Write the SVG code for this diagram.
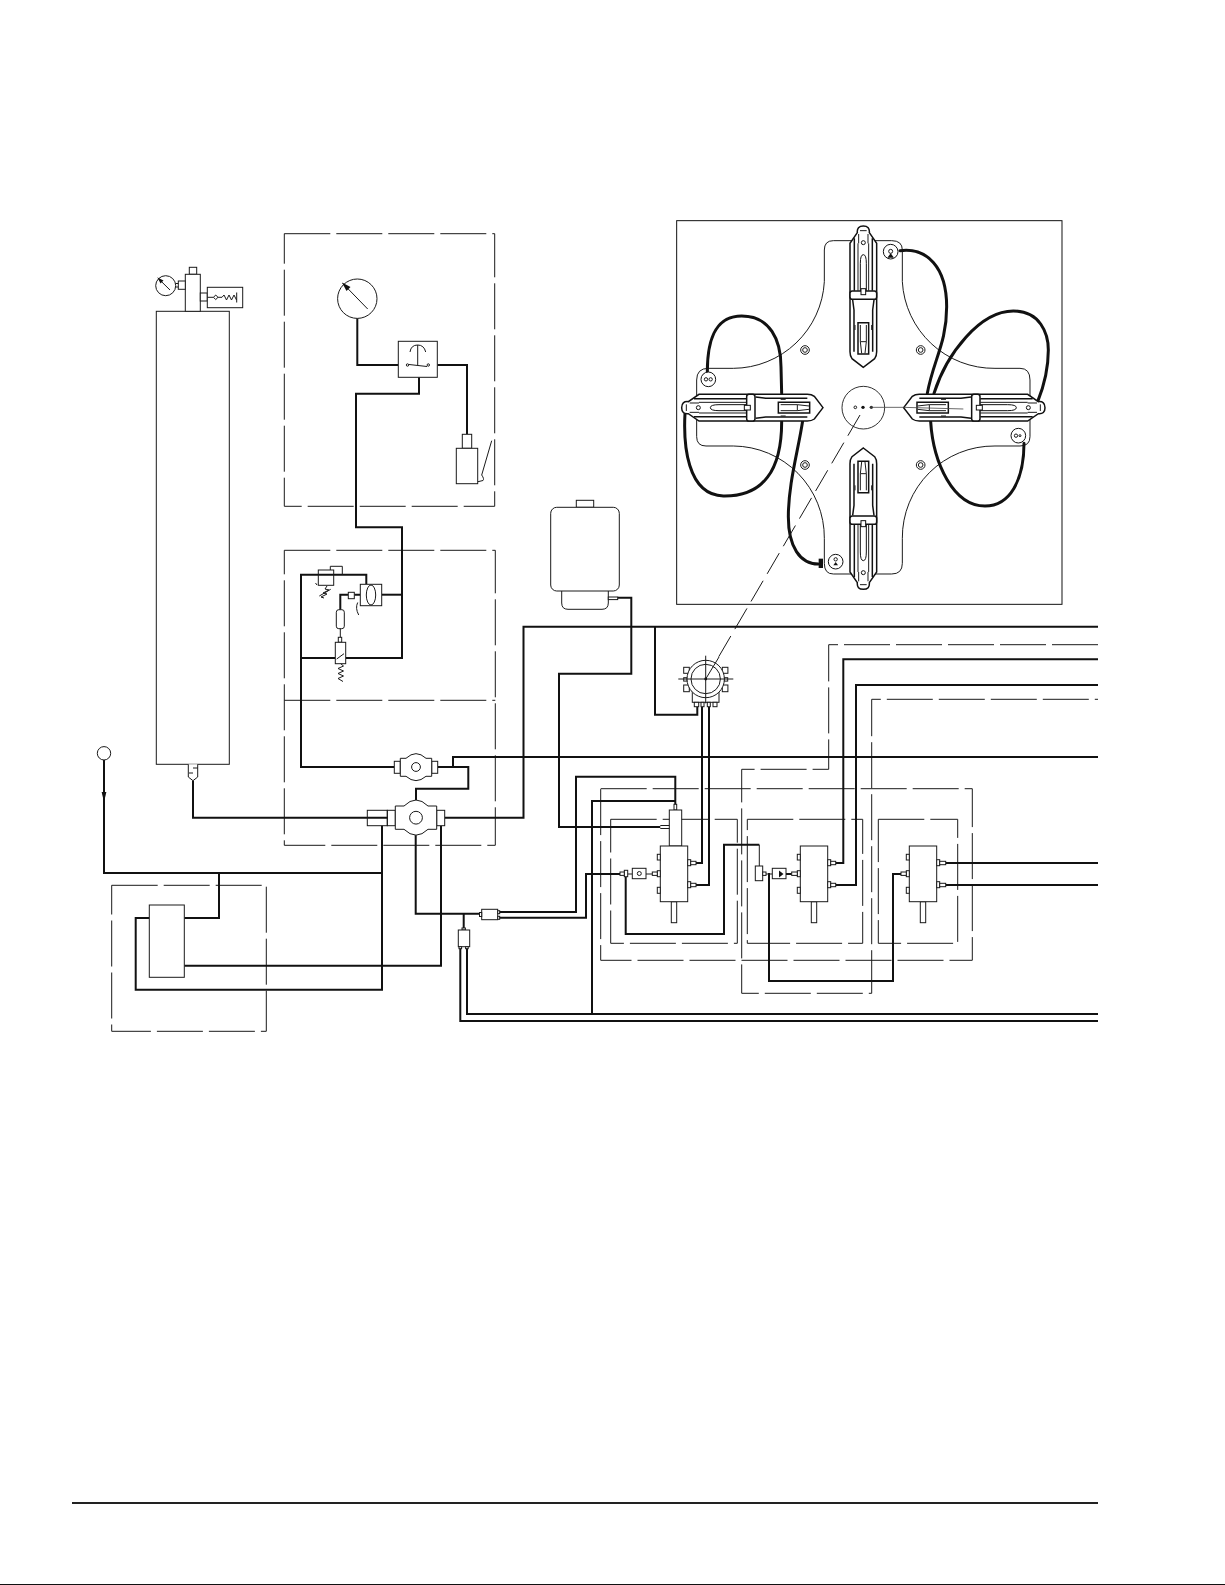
<svg xmlns="http://www.w3.org/2000/svg" xmlns:xlink="http://www.w3.org/1999/xlink" width="1225" height="1585" viewBox="0 0 1225 1585">
<style>
.t{fill:none;stroke:#1a1a1a;stroke-width:1;stroke-linejoin:miter}
.w{fill:#fff;stroke:#1a1a1a;stroke-width:1}
.d{fill:none;stroke:#1a1a1a;stroke-width:1;stroke-dasharray:46 6}
.k{fill:none;stroke:#111;stroke-width:2}
.pt{fill:none;stroke:#1a1a1a;stroke-width:3}
.pk{fill:none;stroke:#111;stroke-width:4.5}
.pw{fill:#fff;stroke:#111;stroke-width:3}
.ph{fill:none;stroke:#111;stroke-width:9;stroke-linecap:round}
</style>
<defs>
<marker id="arr" markerUnits="userSpaceOnUse" markerWidth="11" markerHeight="6" refX="10.5" refY="3" orient="auto" viewBox="0 0 11 6"><path d="M0 0.5V5.5L10.5 3Z" fill="#111"/></marker>
<g id="clamp">
<path class="pk" style="fill:#fff" d="M580 472L546 446Q540 438 540 425V100L562 68Q560 48 580 48Q600 48 598 68L620 100V425Q620 438 614 446Z"/>
<path class="pk" d="M553 85V242M607 85V242M548 270L552 300V425M612 270L608 300V425"/>
<path class="pt" d="M564 100V242M596 100V242"/>
<path class="pw" d="M571 242V160Q571 134 580 134Q589 134 589 160V242Z"/>
<path class="pt" d="M566 72V100M594 72V100M570 62H590"/>
<circle class="pw" cx="580" cy="98" r="6"/>
<rect class="pk" style="fill:#fff" x="540" y="243" width="80" height="25" rx="7"/>
<rect class="pw" x="573" y="236" width="14" height="18"/>
<path class="pk" style="fill:#fff" d="M564 338H596V432H564Z"/>
<path class="pt" d="M571 345V395L575 430M589 345V395L585 430M571 395H589"/>
<path class="pt" d="M555 345V360M605 345V360"/>
</g>
</defs>
<rect width="1225" height="1585" fill="#fff"/>

<g id="panel" transform="translate(670 210) scale(.33333)">
<rect x="20" y="32" width="1156" height="1151" fill="#fff" stroke="#111" stroke-width="3"/>
<path id="plate" class="pt" d="M540 92H490Q463 92 463 120V215A275 275 0 0 1 190 475H115Q80 475 80 510V680Q80 708 108 708H190A275 275 0 0 1 463 985V1060Q463 1092 490 1092H665Q697 1092 697 1060V985A275 275 0 0 1 975 708H1050Q1080 708 1080 680V510Q1080 475 1050 475H975A275 275 0 0 1 697 215V120Q697 92 665 92Z"/>
<g id="screws" class="pt">
<circle cx="405" cy="420" r="13"/><circle cx="405" cy="420" r="7"/>
<circle cx="752" cy="420" r="13"/><circle cx="752" cy="420" r="7"/>
<circle cx="405" cy="765" r="13"/><circle cx="405" cy="765" r="7"/>
<circle cx="752" cy="765" r="13"/><circle cx="752" cy="765" r="7"/>
</g>
<g id="hoses">
<path class="ph" d="M690 122C770 112 830 170 830 290C830 400 790 450 772 550"/>
<path class="ph" d="M792 550C830 430 930 303 1030 303C1110 303 1135 370 1135 420C1135 490 1115 545 1103 575"/>
<path class="ph" d="M782 635C790 760 850 888 945 888C1020 888 1062 810 1062 700"/>
<path class="ph" d="M112 485C112 400 130 318 215 318C300 318 333 390 333 470L335 550"/>
<path class="ph" d="M45 610C40 700 50 855 160 858C280 860 335 780 335 635"/>
<path class="ph" d="M398 632C385 720 355 820 355 920C355 1010 390 1062 445 1062"/>
<rect x="446" y="1046" width="13" height="28" fill="#111"/>
</g>
<g id="clamp-top"><use href="#clamp"/></g>
<g id="clamp-right"><use href="#clamp" transform="rotate(90 580 593)"/></g>
<g id="clamp-bottom"><use href="#clamp" transform="rotate(180 580 593)"/></g>
<g id="clamp-left"><use href="#clamp" transform="rotate(-90 580 593)"/></g>
<g id="ports">
<circle class="pw" cx="662" cy="125" r="22"/><circle class="pt" cx="662" cy="124" r="6"/><path d="M652 143L662 130L672 143Z" fill="#111"/>
<circle class="pw" cx="115" cy="508" r="22"/><circle class="pt" cx="108" cy="508" r="5"/><circle class="pt" cx="122" cy="508" r="5"/>
<circle class="pw" cx="1045" cy="677" r="22"/><circle class="pt" cx="1038" cy="677" r="5"/><circle class="pt" cx="1050" cy="677" r="3"/>
<circle class="pw" cx="497" cy="1055" r="22"/><circle class="pt" cx="497" cy="1048" r="5"/><path d="M490 1066H504L497 1056Z" fill="#111"/>
</g>
<g id="hub">
<circle cx="580" cy="593" r="64" fill="#fff" stroke="#111" stroke-width="2.6"/>
<circle cx="556" cy="592" r="4" class="pt"/><circle cx="579" cy="592" r="5" fill="#111"/><circle cx="604" cy="592" r="5" fill="#333"/>
<path d="M604 592H700L880 597" fill="none" stroke="#444" stroke-width="2.4"/>
</g>
</g>

<g id="dashed-boxes">
<rect class="d" x="284.3" y="233.7" width="210.4" height="272.6"/>
<path class="d" d="M284.3 550.3H495.3V845.3H284.3Z"/>
<path class="d" d="M284.3 700.3H495.3"/>
<rect class="d" x="111.7" y="885.3" width="154.6" height="146"/>
<path class="d" d="M1098 644.7H828.7V769.3H741.7V993.3H871.7V699.3H1098"/>
<rect class="d" x="600.7" y="788.7" width="371.6" height="171.6"/>
<rect class="d" x="610.7" y="819.3" width="126.6" height="124"/>
<rect class="d" x="747.3" y="819.3" width="115.4" height="124"/>
<rect class="d" x="878.3" y="819.3" width="79.4" height="124"/>
<path d="M860 415L705.7 679" fill="none" stroke="#1a1a1a" stroke-width="1" stroke-dasharray="24 8"/>
</g>

<g id="connectors">
<path class="k" d="M357.3 318V365H398.3"/>
<path class="k" d="M437.3 365H467V434.3"/>
<path class="k" d="M419 377.3V393.7H356V527.3H402V658H345.7"/>
<path class="k" d="M402 594.7H381.7"/>
<path class="k" d="M366.3 584.3V574.7H301V767H394.3"/>
<path class="k" d="M301 658H335.3"/>
<path class="k" d="M360.3 594.7H354.3M348.3 594.7H340.3V609.7"/>
<path class="k" d="M437.7 767H468.3V788.7H416V811.7"/>
<path class="k" d="M453 767V757H1098"/>
<path class="k" d="M444.7 817.7H523.5V626.7H1098"/>
<path class="k" d="M655 626.7V714.7H697.3V706.7"/>
<path class="k" d="M617.7 597.7H631.3V673.7H559V827H660.3"/>
<path class="k" d="M193 780.7V817.7H387.7"/>
<path class="k" d="M104 760V802" marker-end="url(#arr)"/>
<path class="k" d="M104 800V873H382"/>
<path class="k" d="M382 825.7V989.7H135.7V918H149.3"/>
<path class="k" d="M219 873V918H184.3"/>
<path class="k" d="M184.3 965.7H441V825.7"/>
<path class="k" d="M415.7 824V913.7H481"/>
<path class="k" d="M463.7 913.7V930"/>
<path class="k" d="M460.3 946.7V1021H1098"/>
<path class="k" d="M467 946.7V1014H1098"/>
<path class="k" d="M497.7 912H576V776.7H675.3V804.3"/>
<path class="k" d="M497.7 917.7H586V874H620"/>
<path class="k" d="M592 1014V801H675"/>
<path class="k" d="M696 863H702V706.7"/>
<path class="k" d="M696 885H709V706.7"/>
<path class="k" d="M625.7 876.7V934H724V844.7H759.3"/>
<path class="t" d="M759.3 844.7V866"/>
<path class="k" d="M769 873V981H893V874H901"/>
<path class="k" d="M786 874H791.7"/>
<path class="k" d="M835.7 863H843.3V659.3H1098"/>
<path class="k" d="M835.7 885H856V685H1098"/>
<path class="k" d="M945.7 863H1098M945.7 885H1098"/>
</g>

<g id="cylinder">
<rect class="w" x="156.3" y="311.3" width="73" height="453"/>
<path class="w" d="M188.3 764.3V777L193 780.7L197.7 777V764.3M193 768H197.7M193 773H189"/>
</g>
<g id="regulator">
<rect class="w" x="189.3" y="267.3" width="7.4" height="7"/>
<rect class="w" x="185.3" y="274.3" width="15" height="37"/>
<rect class="w" x="178.3" y="281" width="7" height="8.3"/>
<path class="t" d="M175.3 283.5H178.3M175.3 287H178.3"/>
<circle class="w" cx="165.7" cy="285.7" r="10"/>
<path class="t" d="M157.8 278L170 290"/><path d="M157.5 277.5L163.5 280.5L160.5 283.5Z" fill="#111"/>
<rect class="w" x="200.3" y="293" width="7" height="8"/>
<rect class="w" x="207.3" y="287.3" width="35.4" height="20.4"/>
<path class="t" d="M207.3 297.3H213.5L215.7 295L218 297.3L215.7 299.6L213.5 297.3M218 297.3H222L224 295L226.5 300L229 295L231.5 300L234 295L236.5 300M236.7 292.5V302.5"/>
</g>
<g id="gauge">
<circle class="w" cx="357.3" cy="298.7" r="19.7"/>
<path class="t" d="M342.7 283.3L367.7 309"/><path d="M342 282.5L350.5 287L346.5 291Z" fill="#111"/>
</g>
<g id="switch">
<rect class="w" x="398.3" y="341.3" width="39" height="36"/>
<path class="t" d="M410 352Q411 345 417.7 345Q424 345 425.7 352M417.7 345V365M409 364.5L427 366.5"/>
<circle class="t" cx="407.5" cy="365" r="1.2"/><circle class="t" cx="428.3" cy="365" r="1.2"/>
</g>
<g id="solenoid">
<rect class="w" x="462.3" y="434.3" width="9.4" height="14"/>
<rect class="w" x="456.3" y="448.3" width="21.4" height="35.4"/>
<path class="t" d="M491.7 440.7L481.7 475Q484.5 479 483 480.5L478 481.7"/>
</g>
<g id="flow-controls">
<rect class="t" x="318.3" y="570" width="15.4" height="15.3"/>
<path class="t" d="M330.3 570V566.3H342.3V574.7"/>
<path class="t" d="M327 586L325 589L329 590L323 593L327 594L321 597L324 598M319.3 596L330.7 589.3M315.5 583L317 585"/>
<rect class="w" x="360.3" y="584.3" width="21.4" height="21.4"/>
<ellipse class="t" cx="371" cy="595" rx="4.7" ry="10"/>
<path class="t" d="M357.7 602.5Q355 608 358.7 615"/>
<rect class="w" x="348.3" y="592.3" width="6" height="6.4"/>
<rect class="w" x="336.3" y="609.7" width="8" height="19" rx="2.5"/>
<path class="t" d="M340.3 628.7V637.3"/>
<rect class="w" x="338.3" y="637.3" width="3.4" height="5"/>
<rect class="w" x="335.3" y="642.3" width="10.4" height="21.4"/>
<path class="t" d="M336.7 659L344 653.7"/>
<path class="t" d="M340.7 663.7L343.5 666L338 668.5L343.5 671L338 673.5L343.5 676L338 678.5L343 681.5"/>
</g>
<g id="pump-1">
<rect class="w" x="394.3" y="761.3" width="6" height="12"/>
<rect class="w" x="431.7" y="761.3" width="6" height="12"/>
<path class="w" d="M400.3 758.3H406Q416 749 426 758.3H431.7V776.3H426Q416 785 406 776.3H400.3Z"/>
<circle class="w" cx="416" cy="767" r="4.4"/>
</g>
<g id="pump-2">
<rect class="t" x="367.3" y="810.3" width="20" height="15.4"/>
<rect class="t" x="387.3" y="810.3" width="8" height="15.4"/>
<rect class="w" x="436.7" y="810.3" width="8" height="15.4"/>
<path class="w" d="M395.3 806H404Q416 794 428 806H436.7V829.3H428Q416 841 404 829.3H395.3Z"/>
<circle class="w" cx="416" cy="817.7" r="6.4"/>
</g>
<g id="supply"><circle class="w" cx="104" cy="753.3" r="6.7"/></g>
<g id="pump-box"><rect class="w" x="149.3" y="905" width="35" height="72.3"/></g>
<g id="fitting-1">
<rect class="w" x="481.7" y="909.3" width="16" height="10.4"/>
<rect class="w" x="479.5" y="912.5" width="2.2" height="4"/>
<rect class="w" x="497.7" y="910.7" width="2" height="3"/><rect class="w" x="497.7" y="916.3" width="2" height="3"/>
</g>
<g id="fitting-2">
<rect class="w" x="462" y="928" width="3.4" height="2"/>
<rect class="w" x="458.3" y="930" width="11.4" height="16.7"/>
<rect class="w" x="459" y="946.7" width="2.6" height="2"/><rect class="w" x="465.6" y="946.7" width="2.6" height="2"/>
</g>
<g id="tank">
<rect class="w" x="576.3" y="500.3" width="17.4" height="7"/>
<path class="w" d="M561.7 591V603Q561.7 609.3 568 609.3H602Q608.3 609.3 608.3 603V591"/>
<rect class="w" x="550.7" y="507.3" width="68.6" height="83.7" rx="6"/>
<rect class="w" x="608.3" y="597" width="9.4" height="2.6"/>
</g>
<g id="controller">
<rect class="w" x="683.7" y="667.3" width="5.6" height="6"/><rect class="w" x="683.7" y="685" width="5.6" height="6.7"/>
<rect class="w" x="722.3" y="667.3" width="5.6" height="6"/><rect class="w" x="722.3" y="685" width="5.6" height="6.7"/>
<rect class="w" x="683.7" y="677.7" width="3.4" height="3.4"/><rect class="w" x="724.3" y="677.7" width="3.4" height="3.4"/>
<rect class="w" x="692.3" y="692" width="26.7" height="10.3"/>
<rect class="w" x="694.3" y="702.3" width="4.4" height="4.4"/><rect class="w" x="701" y="702.3" width="3" height="4.4"/>
<rect class="w" x="707.3" y="702.3" width="3" height="4.4"/><rect class="w" x="713" y="702.3" width="4" height="4.4"/>
<circle class="w" cx="705.7" cy="679" r="18.7"/>
<circle class="t" cx="705.7" cy="679" r="14.7"/>
<path class="t" d="M678.3 679H733.3M705.7 655.7V703.3M719 657L705.7 679"/>
<circle cx="705.7" cy="679" r="1.4" fill="#111"/>
</g>
<g id="valve-1">
<rect class="w" x="674" y="804.3" width="2.7" height="5.7"/>
<rect class="w" x="669.3" y="810" width="12.4" height="36"/>
<path class="t" d="M660.3 825.5H669.3M660.3 828.5H669.3"/>
<rect class="w" x="671.3" y="901.7" width="5.4" height="21"/>
<rect class="w" x="660.3" y="846" width="27.4" height="55.7"/>
<rect class="w" x="657.3" y="854.3" width="3" height="5.7"/><rect class="w" x="657.3" y="870.7" width="3" height="6"/><rect class="w" x="657.3" y="887.3" width="3" height="6"/>
<rect class="w" x="652.3" y="872" width="5" height="3.4"/>
<rect class="w" x="687.7" y="859.7" width="3" height="6"/><rect class="w" x="687.7" y="881.7" width="3" height="6"/>
<rect class="w" x="690.7" y="861.3" width="5.3" height="3.4"/><rect class="w" x="690.7" y="883.3" width="5.3" height="3.4"/>
<path class="t" d="M646 874H652.3M627.7 874H632.3"/>
<rect class="w" x="632.3" y="868.3" width="13.7" height="10.4"/><circle class="w" cx="639.3" cy="873.5" r="2"/>
<rect class="w" x="624.3" y="870.3" width="3.4" height="6.4"/><rect class="w" x="620" y="872" width="4.3" height="3.4"/>
</g>
<g id="valve-2">
<rect class="w" x="811.3" y="901.7" width="5.4" height="21"/>
<rect class="w" x="800.3" y="846" width="27.4" height="55.7"/>
<rect class="w" x="797.3" y="854.3" width="3" height="5.7"/><rect class="w" x="797.3" y="870.7" width="3" height="6"/><rect class="w" x="797.3" y="887.3" width="3" height="6"/>
<rect class="w" x="791.7" y="872" width="5.6" height="3.4"/>
<rect class="w" x="827.7" y="859.7" width="3" height="6"/><rect class="w" x="827.7" y="881.7" width="3" height="6"/>
<rect class="w" x="830.7" y="861.3" width="5" height="3.4"/><rect class="w" x="830.7" y="883.3" width="5" height="3.4"/>
<rect class="w" x="755.3" y="866" width="7.4" height="14.7"/>
<rect class="w" x="762.7" y="872" width="3.3" height="3.4"/>
<path class="t" d="M766 874H772.3"/>
<rect class="w" x="772.3" y="868.3" width="13.7" height="10.4"/><path d="M779 870.5L783.5 874L779 877.5Z" fill="#111"/>
</g>
<g id="valve-3">
<rect class="w" x="920.3" y="901.7" width="5.4" height="21"/>
<rect class="w" x="909.3" y="846" width="27.4" height="55.7"/>
<rect class="w" x="906.3" y="854.3" width="3" height="5.7"/><rect class="w" x="906.3" y="870.7" width="3" height="6"/><rect class="w" x="906.3" y="887.3" width="3" height="6"/>
<rect class="w" x="901" y="872" width="5.3" height="3.4"/>
<rect class="w" x="936.7" y="859.7" width="3" height="6"/><rect class="w" x="936.7" y="881.7" width="3" height="6"/>
<rect class="w" x="939.7" y="861.3" width="6" height="3.4"/><rect class="w" x="939.7" y="883.3" width="6" height="3.4"/>
</g>
<g id="page-rules">
<path d="M72 1503H1098" stroke="#222" stroke-width="2" fill="none"/>
<path d="M0 1584.5H1225" stroke="#111" stroke-width="1" fill="none"/>
</g>
</svg>
